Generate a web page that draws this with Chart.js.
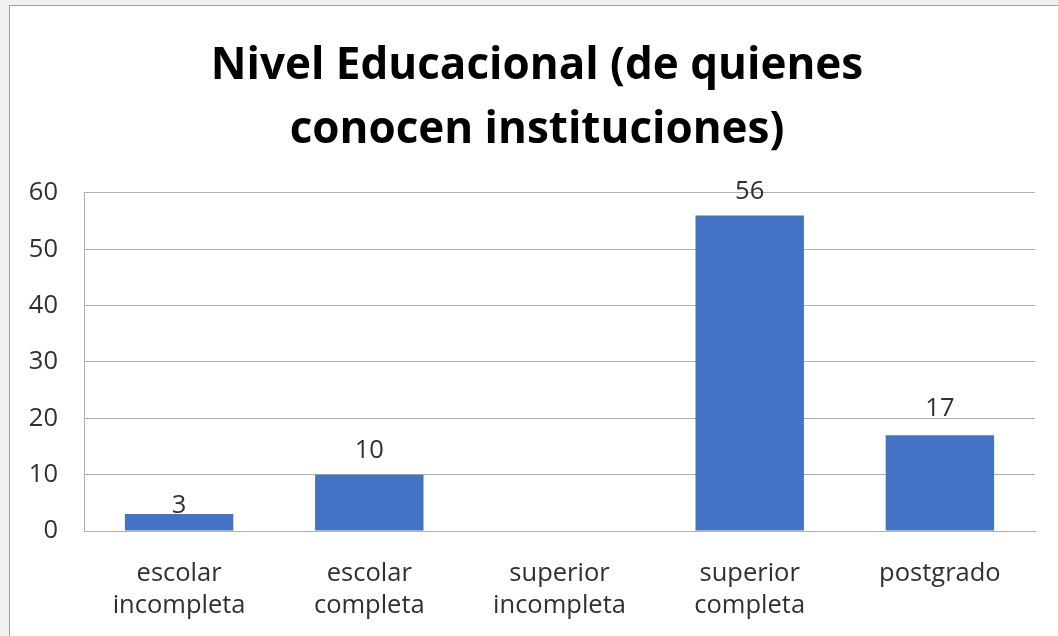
<!DOCTYPE html>
<html>
<head>
<meta charset="utf-8">
<script src="https://cdn.jsdelivr.net/npm/chart.js@4"></script>
<style>
  html, body { margin: 0; padding: 0; background: #f0f0f0; overflow: hidden; }
  #frame { position: absolute; left: 9px; top: 5px; width: 1070px; height: 660px; background: #ffffff; border: 1px solid #a0a0a0; }
  #wrap { position: absolute; left: 0; top: 0; width: 1074px; height: 636px; }
</style>
</head>
<body>
<div id="frame"></div>
<div id="wrap"><canvas id="myChart" width="1074" height="636"></canvas></div>
<script>
var labels = [["escolar", "incompleta"], ["escolar", "completa"], ["superior", "incompleta"], ["superior", "completa"], "postgrado"];
var values = [3, 10, 0, 56, 17];
var title = ["Nivel Educacional (de quienes", "conocen instituciones)"];
var yTicks = [0, 10, 20, 30, 40, 50, 60];

var fontFamily = "'Open Sans', sans-serif";
var textColor = "#303030";
// gap between bar top and value label baseline (the small first bar sits tight)
var labelGaps = [1, 17, 17, 17, 19];

// draws the value over each bar (skips zero)
var valueLabels = {
	id: "valueLabels",
	afterDatasetsDraw: function(chart) {
		var ctx = chart.ctx;
		var meta = chart.getDatasetMeta(0);
		ctx.save();
		ctx.font = "25.5px " + fontFamily;
		ctx.fillStyle = textColor;
		ctx.textAlign = "center";
		ctx.textBaseline = "alphabetic";
		meta.data.forEach(function(bar, i) {
			if (!values[i]) return;
			ctx.fillText(values[i], bar.x, bar.y - labelGaps[i]);
		});
		ctx.restore();
	}
};

var ctx = document.getElementById('myChart').getContext('2d');
var chart = new Chart(ctx, {
	type: "bar",
	data: {
		labels: labels,
		datasets: [{
			label: "Nivel",
			data: values,
			backgroundColor: "#4472C4",
			categoryPercentage: 1,
			barPercentage: 0.57
		}]
	},
	options: {
		responsive: false,
		animation: false,
		layout: {padding: 0},
		plugins: {
			legend: {display: false},
			tooltip: {enabled: false},
			title: {
				display: true,
				text: title,
				color: "#000000",
				font: {family: fontFamily, size: 44, weight: "bold", lineHeight: 1.4545},
				padding: {top: 34, bottom: 31}
			}
		},
		scales: {
			x: {
				grid: {display: false},
				border: {display: true, color: "#b0b0b0"},
				ticks: {color: textColor, font: {family: fontFamily, size: 25.5, lineHeight: 1.25}, padding: 19, maxRotation: 0},
				afterFit: function(scale) { scale.height = 105; }
			},
			y: {
				min: 0,
				max: 60,
				afterBuildTicks: function(scale) {
					scale.ticks = yTicks.map(function(v) { return {value: v}; });
				},
				grid: {color: "#b0b0b0", drawTicks: false},
				border: {display: true, color: "#b0b0b0"},
				ticks: {color: textColor, font: {family: fontFamily, size: 25.5}, padding: 26},
				afterFit: function(scale) { scale.width = 84; }
			},
			// empty right-hand spacer so the plot ends at x=1035
			spacer: {
				type: "linear",
				position: "right",
				grid: {display: false},
				border: {display: false},
				ticks: {display: false},
				afterFit: function(scale) { scale.width = 39; }
			}
		}
	},
	plugins: [valueLabels]
});
</script>
</body>
</html>
